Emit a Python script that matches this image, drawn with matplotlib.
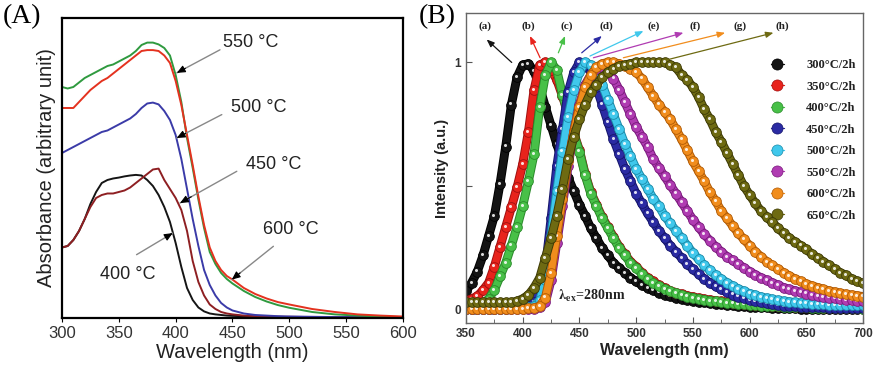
import matplotlib
matplotlib.use("Agg")
import matplotlib.pyplot as plt
import matplotlib.transforms as mtransforms
import matplotlib.patheffects as pe
from matplotlib.lines import Line2D
from matplotlib.legend_handler import HandlerTuple

# ---------------- Panel A data ----------------
wl_a = [300, 305, 310, 315, 320, 325, 330, 335, 340, 345, 350, 355, 360, 365, 370,
        375, 380, 385, 390, 395, 400, 405, 410, 415, 420, 425, 430, 435, 440, 445,
        450, 460, 470, 480, 490, 500, 520, 540, 560, 580, 600]
abs_550 = [0.77, 0.765, 0.77, 0.785, 0.80, 0.81, 0.82, 0.83, 0.84, 0.845, 0.855, 0.865, 0.875, 0.89, 0.91,
           0.918, 0.918, 0.912, 0.90, 0.875, 0.81, 0.72, 0.60, 0.50, 0.395, 0.30, 0.22, 0.18, 0.15, 0.13,
           0.115, 0.09, 0.07, 0.055, 0.043, 0.034, 0.02, 0.012, 0.008, 0.005, 0.003]
abs_600 = [0.70, 0.70, 0.70, 0.72, 0.74, 0.76, 0.775, 0.79, 0.80, 0.815, 0.83, 0.845, 0.86, 0.875, 0.89,
           0.893, 0.893, 0.89, 0.875, 0.85, 0.79, 0.71, 0.61, 0.51, 0.405, 0.31, 0.235, 0.19, 0.16, 0.14,
           0.128, 0.10, 0.08, 0.065, 0.053, 0.045, 0.03, 0.02, 0.012, 0.008, 0.005]
abs_500 = [0.55, 0.56, 0.57, 0.58, 0.59, 0.60, 0.61, 0.62, 0.625, 0.635, 0.645, 0.655, 0.665, 0.68, 0.70,
           0.715, 0.718, 0.712, 0.69, 0.66, 0.61, 0.53, 0.43, 0.33, 0.24, 0.16, 0.11, 0.075, 0.05, 0.035,
           0.025, 0.015, 0.01, 0.008, 0.006, 0.005, 0.004, 0.003, 0.003, 0.002, 0.002]
abs_450 = [0.235, 0.24, 0.26, 0.29, 0.33, 0.37, 0.40, 0.41, 0.415, 0.415, 0.42, 0.425, 0.435, 0.45, 0.465,
           0.48, 0.495, 0.498, 0.46, 0.43, 0.40, 0.36, 0.29, 0.19, 0.12, 0.075, 0.045, 0.03, 0.02, 0.015,
           0.012, 0.008, 0.006, 0.005, 0.004, 0.004, 0.003, 0.003, 0.002, 0.002, 0.002]
abs_400 = [0.235, 0.24, 0.26, 0.29, 0.33, 0.38, 0.42, 0.45, 0.46, 0.465, 0.468, 0.472, 0.475, 0.477, 0.475,
           0.46, 0.44, 0.41, 0.37, 0.32, 0.25, 0.17, 0.10, 0.06, 0.035, 0.022, 0.015, 0.012, 0.01, 0.008,
           0.007, 0.006, 0.005, 0.004, 0.004, 0.003, 0.003, 0.002, 0.002, 0.002, 0.002]
labels_a = ["550 °C", "500 °C", "450 °C", "600 °C", "400 °C"]

# ---------------- Panel B data ----------------
wl_b = list(range(350, 705, 5))
pl_300 = [0.075, 0.11, 0.155, 0.22, 0.30, 0.38, 0.51, 0.66, 0.83, 0.94,
          0.99, 0.995, 0.965, 0.90, 0.82, 0.745, 0.67, 0.60, 0.535, 0.48,
          0.425, 0.38, 0.33, 0.29, 0.25, 0.22, 0.19, 0.17, 0.15, 0.13,
          0.115, 0.10, 0.09, 0.08, 0.07, 0.062, 0.055, 0.05, 0.045, 0.04,
          0.036, 0.033, 0.03, 0.027, 0.024, 0.022, 0.02, 0.018, 0.016, 0.015,
          0.013, 0.012, 0.011, 0.01, 0.009, 0.008, 0.007, 0.006, 0.006, 0.005,
          0.005, 0.004, 0.004, 0.003, 0.003, 0.003, 0.002, 0.002, 0.002, 0.002,
          0.002]
pl_350 = [0.035, 0.045, 0.055, 0.08, 0.11, 0.175, 0.255, 0.335, 0.415, 0.495,
          0.59, 0.72, 0.89, 0.99, 1.0, 0.97, 0.93, 0.865, 0.79, 0.715,
          0.645, 0.55, 0.475, 0.425, 0.375, 0.335, 0.295, 0.255, 0.225, 0.195,
          0.175, 0.15, 0.13, 0.115, 0.10, 0.088, 0.078, 0.07, 0.063, 0.057,
          0.052, 0.047, 0.043, 0.04, 0.037, 0.034, 0.031, 0.029, 0.027, 0.025,
          0.023, 0.021, 0.02, 0.018, 0.017, 0.016, 0.015, 0.014, 0.013, 0.012,
          0.011, 0.01, 0.01, 0.009, 0.009, 0.008, 0.008, 0.007, 0.007, 0.006,
          0.006]
pl_400 = [0.01, 0.012, 0.015, 0.025, 0.045, 0.08, 0.135, 0.19, 0.26, 0.335,
          0.42, 0.52, 0.63, 0.82, 0.95, 1.0, 0.97, 0.87, 0.79, 0.71,
          0.64, 0.545, 0.47, 0.42, 0.37, 0.33, 0.29, 0.25, 0.22, 0.19,
          0.17, 0.145, 0.125, 0.11, 0.095, 0.084, 0.075, 0.067, 0.06, 0.054,
          0.049, 0.045, 0.041, 0.037, 0.034, 0.031, 0.028, 0.026, 0.024, 0.022,
          0.02, 0.018, 0.017, 0.016, 0.015, 0.014, 0.013, 0.012, 0.011, 0.01,
          0.01, 0.009, 0.009, 0.008, 0.008, 0.007, 0.007, 0.006, 0.006, 0.006,
          0.005]
pl_450 = [0.005, 0.005, 0.005, 0.005, 0.005, 0.005, 0.005, 0.006, 0.007, 0.008,
          0.01, 0.015, 0.03, 0.08, 0.17, 0.37, 0.58, 0.73, 0.88, 0.96,
          1.0, 0.99, 0.96, 0.90, 0.83, 0.76, 0.69, 0.63, 0.57, 0.52,
          0.47, 0.43, 0.39, 0.355, 0.32, 0.29, 0.26, 0.235, 0.21, 0.185,
          0.165, 0.145, 0.125, 0.11, 0.095, 0.083, 0.072, 0.062, 0.054, 0.047,
          0.04, 0.035, 0.03, 0.026, 0.022, 0.019, 0.017, 0.015, 0.014, 0.013,
          0.012, 0.011, 0.01, 0.01, 0.009, 0.009, 0.008, 0.008, 0.007, 0.007,
          0.006]
pl_500 = [0.005, 0.005, 0.005, 0.005, 0.005, 0.005, 0.005, 0.005, 0.006, 0.007,
          0.008, 0.01, 0.015, 0.04, 0.12, 0.30, 0.48, 0.64, 0.78, 0.89,
          0.96, 1.0, 0.99, 0.96, 0.91, 0.85, 0.79, 0.73, 0.67, 0.62,
          0.57, 0.53, 0.49, 0.45, 0.42, 0.38, 0.35, 0.32, 0.29, 0.26,
          0.23, 0.205, 0.18, 0.16, 0.14, 0.125, 0.11, 0.097, 0.085, 0.075,
          0.066, 0.059, 0.052, 0.047, 0.042, 0.038, 0.035, 0.032, 0.03, 0.028,
          0.026, 0.024, 0.023, 0.022, 0.021, 0.021, 0.02, 0.02, 0.019, 0.019,
          0.018]
pl_550 = [0.003, 0.003, 0.003, 0.003, 0.003, 0.003, 0.003, 0.003, 0.003, 0.003,
          0.003, 0.004, 0.005, 0.01, 0.03, 0.12, 0.27, 0.42, 0.58, 0.72,
          0.83, 0.91, 0.95, 0.975, 0.98, 0.965, 0.935, 0.89, 0.84, 0.79,
          0.74, 0.70, 0.66, 0.61, 0.575, 0.54, 0.505, 0.47, 0.435, 0.40,
          0.365, 0.335, 0.305, 0.28, 0.255, 0.235, 0.215, 0.20, 0.185, 0.17,
          0.155, 0.142, 0.13, 0.12, 0.11, 0.1, 0.09, 0.083, 0.077, 0.071,
          0.066, 0.061, 0.057, 0.053, 0.05, 0.047, 0.044, 0.041, 0.038, 0.036,
          0.034]
pl_600 = [0.005, 0.005, 0.005, 0.005, 0.005, 0.005, 0.005, 0.005, 0.005, 0.005,
          0.005, 0.006, 0.008, 0.015, 0.05, 0.15, 0.30, 0.45, 0.60, 0.72,
          0.82, 0.90, 0.95, 0.98, 0.995, 1.0, 1.0, 0.995, 0.985, 0.975,
          0.96, 0.935, 0.90, 0.865, 0.83, 0.80, 0.77, 0.73, 0.69, 0.645,
          0.60, 0.56, 0.52, 0.475, 0.44, 0.40, 0.37, 0.34, 0.31, 0.285,
          0.26, 0.235, 0.215, 0.195, 0.18, 0.165, 0.15, 0.137, 0.125, 0.115,
          0.105, 0.097, 0.09, 0.083, 0.077, 0.072, 0.067, 0.063, 0.06, 0.057,
          0.054]
pl_650 = [0.03, 0.03, 0.03, 0.03, 0.03, 0.03, 0.03, 0.03, 0.03, 0.035,
          0.045, 0.06, 0.09, 0.13, 0.21, 0.29, 0.38, 0.49, 0.61, 0.70,
          0.77, 0.83, 0.88, 0.91, 0.94, 0.96, 0.975, 0.985, 0.99, 0.995,
          1.0, 1.0, 1.0, 1.0, 1.0, 1.0, 0.99, 0.98, 0.95, 0.93,
          0.90, 0.86, 0.81, 0.77, 0.72, 0.68, 0.635, 0.59, 0.545, 0.50,
          0.465, 0.43, 0.40, 0.375, 0.355, 0.33, 0.31, 0.29, 0.275, 0.26,
          0.245, 0.225, 0.21, 0.195, 0.18, 0.165, 0.15, 0.14, 0.125, 0.115,
          0.108]
legend_b = ["300°C/2h", "350°C/2h", "400°C/2h", "450°C/2h",
            "500°C/2h", "550°C/2h", "600°C/2h", "650°C/2h"]
tags_b = ["(a)", "(b)", "(c)", "(d)", "(e)", "(f)", "(g)", "(h)"]

# ---------------- figure ----------------
plt.rcParams['mathtext.fontset'] = 'stix'
fig = plt.figure(figsize=(8.73, 3.71), dpi=100)
axA = fig.add_axes([0.071, 0.1429, 0.3906, 0.8086])
axB = fig.add_axes([0.5338, 0.1294, 0.4548, 0.8356])

sans = ['Liberation Sans', 'DejaVu Sans']
serif = ['Liberation Serif', 'DejaVu Serif']

# Panel A
cols_a = {'550': '#2f9a3f', '600': '#e4321f', '500': '#3b3ba8', '450': '#8e1f22', '400': '#151515'}
axA.plot(wl_a, abs_400, color=cols_a['400'], lw=1.4)
axA.plot(wl_a, abs_450, color=cols_a['450'], lw=1.4)
axA.plot(wl_a, abs_500, color=cols_a['500'], lw=1.4)
axA.plot(wl_a, abs_550, color=cols_a['550'], lw=1.4)
axA.plot(wl_a, abs_600, color=cols_a['600'], lw=1.4)
axA.set_xlim(300, 600)
axA.set_ylim(0, 1)
axA.set_yticks([])
axA.set_xticks(range(300, 601, 50))
axA.tick_params(axis='x', direction='out', length=3, labelsize=12, pad=3, labelcolor='#333333')
for lab in axA.get_xticklabels():
    lab.set_family(sans)
for s in axA.spines.values():
    s.set_linewidth(1.6)
axA.set_xlabel("Wavelength (nm)", fontsize=14.5, family=sans, labelpad=1, color='#222222')
axA.set_ylabel("Absorbance (arbitrary unit)", fontsize=14.5, family=sans, labelpad=4, color='#222222')

ann_a = [  # text pos, tail, head
    ((466, 0.917), (439, 0.894), (401, 0.817)),
    ((473, 0.700), (440.6, 0.678), (400.9, 0.60)),
    ((486, 0.511), (453.8, 0.489), (403.8, 0.383)),
    ((501, 0.294), (486, 0.239), (449.4, 0.128)),
    ((358, 0.144), (365.6, 0.211), (397.4, 0.283)),
]
for lab, (tp, tail, head) in zip(labels_a, ann_a):
    axA.text(tp[0], tp[1], lab, fontsize=13, family=sans, ha='center', va='center', color='#222222')
    axA.annotate("", xy=head, xytext=tail,
                 arrowprops=dict(arrowstyle='-', color='#888888', lw=1.0, shrinkA=0, shrinkB=0))
    mid = (tail[0] + 0.8 * (head[0] - tail[0]), tail[1] + 0.8 * (head[1] - tail[1]))
    axA.annotate("", xy=head, xytext=mid,
                 arrowprops=dict(arrowstyle='-|>,head_length=0.5,head_width=0.22', color='black',
                                 lw=0.8, shrinkA=0, shrinkB=0))

fig.text(0.003, 0.99, "(A)", fontsize=20, family=serif, ha='left', va='top')
fig.text(0.480, 0.99, "(B)", fontsize=20, family=serif, ha='left', va='top')

# Panel B
series_b = [pl_300, pl_350, pl_400, pl_450, pl_500, pl_550, pl_600, pl_650]
cols_b = ['#141414', '#e8231c', '#48c048', '#2b2ba3', '#40c8ec', '#b03cb2', '#f18d1d', '#6e6a12']
edge_b = ['#000000', '#a01010', '#2a8a2a', '#15156a', '#1a8aa8', '#7a1a7c', '#b05a05', '#3e3b06']
hl = mtransforms.offset_copy(axB.transData, fig=fig, x=-0.7, y=0.8, units='points')
handles = []
for i, (ys, c, ec) in enumerate(zip(series_b, cols_b, edge_b)):
    z = 2 + i
    axB.plot(wl_b, ys, '-', color=c, lw=5.0, zorder=z, solid_capstyle='round',
             path_effects=[pe.Stroke(linewidth=6.4, foreground=ec), pe.Normal()])
    axB.plot(wl_b, ys, 'o', ms=7.0, mfc=c, mec=ec, mew=0.6, zorder=z)
    axB.plot(wl_b, ys, 'o', ms=2.2, mfc='white', mec='none', alpha=0.85, zorder=z, transform=hl)
    h1 = Line2D([], [], color=c, lw=0.8, marker='o', ms=8, mfc=c, mec=ec, mew=0.5)
    h2 = Line2D([], [], ls='none', marker='o', ms=2.2, mfc='white', mec='none')
    handles.append((h1, h2))

axB.set_xlim(350, 700)
axB.set_ylim(-0.053, 1.2)
axB.set_xticks(range(350, 701, 50))
axB.set_xticks(range(375, 700, 50), minor=True)
axB.set_yticks([0, 0.5, 1])
axB.set_yticklabels(["0", "", "1"])
axB.tick_params(axis='both', which='both', direction='in', color='#555555')
axB.tick_params(axis='both', which='major', length=4, labelsize=8.5, labelcolor='#333333')
axB.tick_params(axis='x', which='minor', length=3)
for lab in axB.get_xticklabels() + axB.get_yticklabels():
    lab.set_fontweight('bold')
    lab.set_family(sans)
for s in axB.spines.values():
    s.set_color('#666666')
    s.set_linewidth(1.0)
    s.set_zorder(30)
axB.set_xlabel("Wavelength (nm)", fontsize=11.5, fontweight='bold', family=sans, labelpad=2, color='#222222')
axB.set_ylabel("Intensity (a.u.)", fontsize=10.5, fontweight='bold', family=sans, labelpad=4, color='#222222')

leg = axB.legend(handles, legend_b, handler_map={tuple: HandlerTuple(ndivide=None)},
                 loc='upper right', bbox_to_anchor=(1.0, 0.875), frameon=False,
                 prop={'family': serif, 'weight': 'bold', 'size': 9},
                 labelspacing=0.76, handlelength=2.4, handletextpad=0.4, borderaxespad=0.2)
for t in leg.get_texts():
    t.set_color('#222222')

tag_pos = [366.8, 405, 438.8, 474, 515.2, 552, 591.6, 628.4]
arrows_b = [((390.3, 1.0), (368.2, 1.093)),
            ((415.3, 1.019), (406.4, 1.107)),
            ((431.4, 1.039), (437.3, 1.107)),
            ((452.0, 1.039), (469.7, 1.107)),
            ((459.3, 1.026), (506.4, 1.127)),
            ((462.3, 1.019), (541.6, 1.12)),
            ((488.7, 1.019), (578.4, 1.12)),
            ((528.4, 1.012), (621.0, 1.12))]
for tag, x, (tail, head), c in zip(tags_b, tag_pos, arrows_b, cols_b):
    axB.text(x, 1.145, tag, fontsize=8, fontweight='bold', family=serif, ha='center', va='center',
             color='#222222', zorder=20)
    axB.annotate("", xy=head, xytext=tail, zorder=20,
                 arrowprops=dict(arrowstyle='-|>,head_length=0.45,head_width=0.18', color=c,
                                 lw=0.9, shrinkA=0, shrinkB=0))

axB.text(431, 0.055, r"$\mathbf{\lambda_{ex}}$=280nm", fontsize=10, fontweight='bold', family=serif,
         ha='left', va='center', color='#222222', zorder=20)

fig.savefig("out.png", dpi=100)
